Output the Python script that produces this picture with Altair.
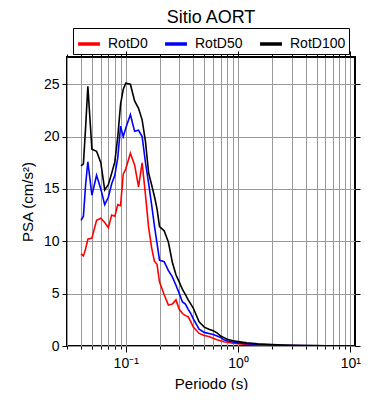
import altair as alt
import pandas as pd

periods = [0.04, 0.042, 0.044, 0.046, 0.05, 0.055, 0.06, 0.065, 0.07, 0.075,
           0.08, 0.085, 0.09, 0.095, 0.1, 0.11, 0.12, 0.13, 0.14, 0.15,
           0.16, 0.17, 0.18, 0.19, 0.2, 0.22, 0.24, 0.26, 0.28, 0.3,
           0.32, 0.34, 0.36, 0.38, 0.4, 0.45, 0.5, 0.55, 0.6, 0.65,
           0.7, 0.75, 0.8, 0.9, 1.0, 1.2, 1.5, 2.0, 2.5, 3.0,
           4.0, 5.0, 6.0, 7.5, 10.0]

rotd0 = [8.8, 8.6, 9.3, 10.2, 10.3, 12.0, 12.2, 11.8, 11.3, 12.5,
         12.4, 13.5, 13.4, 16.4, 16.9, 18.4, 17.3, 15.2, 17.5, 14.4,
         11.3, 9.4, 8.1, 7.8, 6.1, 4.9, 3.9, 4.0, 4.4, 3.5,
         3.1, 2.9, 2.8, 2.3, 1.8, 1.2, 1.0, 0.9, 0.75, 0.6,
         0.5, 0.4, 0.35, 0.27, 0.22, 0.15, 0.1, 0.07, 0.05, 0.04,
         0.03, 0.02, 0.018, 0.015, 0.01]

rotd50 = [12.0, 12.4, 15.5, 17.6, 14.4, 16.3, 15.0, 13.5, 14.2, 15.5,
          16.3, 18.0, 21.0, 20.0, 20.8, 22.1, 20.5, 20.6, 20.0, 17.5,
          15.5, 13.5, 11.5, 9.8, 8.2, 8.05, 7.2, 6.6, 5.8, 5.0,
          4.2, 4.0, 3.5, 3.1, 2.6, 1.6, 1.3, 1.2, 1.1, 0.95,
          0.8, 0.6, 0.5, 0.38, 0.3, 0.22, 0.15, 0.1, 0.07, 0.05,
          0.04, 0.03, 0.025, 0.02, 0.015]

rotd100 = [17.2, 17.4, 21.0, 24.8, 18.8, 18.6, 17.5, 14.9, 15.4, 16.5,
           17.6, 20.0, 23.1, 24.5, 25.1, 25.0, 23.4, 22.7, 21.6, 19.5,
           16.5, 15.4, 14.3, 13.1, 11.4, 11.0, 9.9, 8.0, 6.8, 6.1,
           5.4, 4.9, 4.4, 4.0, 3.6, 2.3, 1.8, 1.6, 1.45, 1.25,
           0.95, 0.8, 0.65, 0.5, 0.42, 0.3, 0.2, 0.13, 0.09, 0.07,
           0.05, 0.04, 0.03, 0.025, 0.02]

series_names = ["RotD0", "RotD50", "RotD100"]
series_colors = ["#ff0000", "#0000ff", "#000000"]
x_tick_values = [0.03, 0.04, 0.05, 0.06, 0.07, 0.08, 0.09,
                 0.1, 0.2, 0.3, 0.4, 0.5, 0.6, 0.7, 0.8, 0.9,
                 1, 2, 3, 4, 5, 6, 7, 8, 9, 10]
y_tick_values = [0, 5, 10, 15, 20, 25]

rows = []
for name, vals in zip(series_names, [rotd0, rotd50, rotd100]):
    for p, v in zip(periods, vals):
        rows.append({"Periodo": p, "PSA": v, "Serie": name})
df = pd.DataFrame(rows)

FONT = "Liberation Sans"
decade = "abs(log(datum.value)/LN10 - round(log(datum.value)/LN10)) < 0.000001"

xscale = alt.Scale(type="log", domain=[0.03, 11], nice=False)
yscale = alt.Scale(domain=[0, 27.6], nice=False, zero=True)

lines = alt.Chart(df).mark_line(strokeWidth=1.6, clip=True).encode(
    x=alt.X("Periodo:Q", scale=xscale,
            axis=alt.Axis(title="Periodo (s)", values=x_tick_values,
                          labelExpr="datum.value == 0.1 ? '10⁻¹' : datum.value == 1 ? '10⁰' : datum.value == 10 ? '10¹' : ''",
                          grid=True, gridColor="#999999", gridWidth=1,
                          tickColor="black",
                          tickSize={"condition": {"test": decade, "value": 6}, "value": 3},
                          domain=False, labelFont=FONT, labelFontSize=14,
                          labelColor="black", labelPadding=4, labelFlush=False,
                          titleFont=FONT, titleFontSize=15, titleFontWeight="normal",
                          titleColor="black", titlePadding=6)),
    y=alt.Y("PSA:Q", scale=yscale,
            axis=alt.Axis(title="PSA (cm/s²)", values=y_tick_values,
                          grid=True, gridColor="#999999", gridWidth=1,
                          tickColor="black", tickSize=5, domain=False,
                          labelFont=FONT, labelFontSize=14, labelColor="black",
                          labelPadding=3, titleFont=FONT, titleFontSize=15,
                          titleFontWeight="normal", titleColor="black",
                          titlePadding=8)),
    color=alt.Color("Serie:N",
                    scale=alt.Scale(domain=series_names, range=series_colors),
                    sort=series_names,
                    legend=alt.Legend(title=None, orient="none", legendX=6, legendY=-29,
                                      direction="horizontal", columns=3,
                                      symbolType="stroke", symbolStrokeWidth=3.5,
                                      symbolSize=480, labelFont=FONT, labelFontSize=14,
                                      labelColor="black", strokeColor="black",
                                      padding=3, columnPadding=10, labelOffset=6)),
    order=alt.Order("Periodo:Q"),
)

frame = alt.Chart(df).mark_line(opacity=0).encode(
    x=alt.X("Periodo:Q", scale=xscale,
            axis=alt.Axis(orient="top", title=None, values=x_tick_values,
                          labels=False, grid=False, domain=False, tickColor="black",
                          tickSize={"condition": {"test": decade, "value": 6}, "value": 3})),
    y=alt.Y("PSA:Q", scale=yscale,
            axis=alt.Axis(orient="right", title=None, values=y_tick_values,
                          labels=False, grid=False, domain=False,
                          tickColor="black", tickSize=5)),
    detail="Serie:N",
)

chart = alt.layer(lines, frame).resolve_axis(x="independent", y="independent").properties(
    width=288, height=289,
    title=alt.TitleParams("Sitio AORT", font=FONT, fontSize=18, fontWeight="normal",
                          color="black", anchor="middle", offset=1),
    autosize=alt.AutoSizeParams(type="none"),
    padding={"left": 59, "top": 49, "right": 25, "bottom": 44},
).configure_view(stroke="black", strokeWidth=2)

chart.save("out.html", embed_options={"renderer": "svg", "actions": False})
